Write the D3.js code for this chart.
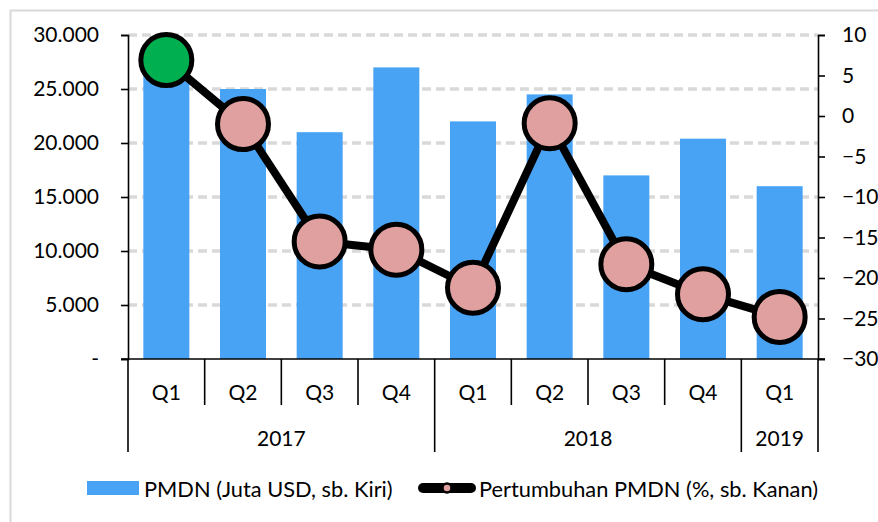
<!DOCTYPE html>
<html>
<head>
<meta charset="utf-8">
<script src="https://cdn.jsdelivr.net/npm/d3@7"></script>
<style>
  html, body { margin: 0; padding: 0; background: #fff; }
  svg { display: block; }
  text { font-family: Lato, "Open Sans", sans-serif; fill: #000; }
</style>
</head>
<body>
<svg id="chart" width="878" height="522"></svg>
<script>
// Quarterly domestic investment (PMDN) and its growth rate
const quarters = ["Q1", "Q2", "Q3", "Q4", "Q1", "Q2", "Q3", "Q4", "Q1"];
const years = ["2017", "2017", "2017", "2017", "2018", "2018", "2018", "2018", "2019"];
const pmdn = [27000, 25000, 21000, 27000, 22000, 24500, 17000, 20400, 16000];      // juta USD, left axis
const growth = [6.9, -1.0, -15.5, -16.5, -21.2, -0.9, -18.3, -22.0, -24.8];        // %, right axis
const leftTicks = [0, 5000, 10000, 15000, 20000, 25000, 30000];
const rightTicks = [-30, -25, -20, -15, -10, -5, 0, 5, 10];
const seriesNames = ["PMDN (Juta USD, sb. Kiri)", "Pertumbuhan PMDN (%, sb. Kanan)"];

const svg = d3.select("#chart");
const FONT = 21;
const LEGEND_FONT = 21.8;
const plotL = 128, plotR = 818, plotT = 35, plotB = 359;

// outer frame
svg.append("rect")
  .attr("x", 10.5).attr("y", 10.5).attr("width", 900).attr("height", 600)
  .attr("fill", "none").attr("stroke", "#d9d9d9").attr("stroke-width", 2);

const idx = d3.range(quarters.length);
const x = d3.scaleBand().domain(idx).range([plotL, plotR]).paddingInner(0.4).paddingOuter(0.2);
const yL = d3.scaleLinear().domain([0, 30000]).range([plotB, plotT]);
const yR = d3.scaleLinear().domain([-30, 10]).range([plotB, plotT]);

const idLocale = d3.formatLocale({ decimal: ",", thousands: ".", grouping: [3], currency: ["", ""] });
const fmtL = v => v === 0 ? "-" : idLocale.format(",")(v);

// dashed gridlines
svg.append("g").selectAll("line")
  .data(leftTicks.filter(v => v > 0))
  .join("line")
  .attr("x1", plotL).attr("x2", plotR)
  .attr("y1", d => yL(d)).attr("y2", d => yL(d))
  .attr("stroke", "#d9d9d9").attr("stroke-width", 3.5)
  .attr("stroke-dasharray", "9,5");

// bars
svg.append("g").selectAll("rect")
  .data(pmdn)
  .join("rect")
  .attr("x", (d, i) => x(i))
  .attr("width", x.bandwidth())
  .attr("y", d => yL(d))
  .attr("height", d => yL(0) - yL(d))
  .attr("fill", "#48a3f5");

// left axis
const gL = svg.append("g").attr("transform", `translate(${plotL},0)`)
  .call(d3.axisLeft(yL).tickValues(leftTicks).tickFormat(fmtL).tickSize(7).tickSizeOuter(7).tickPadding(22));
// right axis
const gR = svg.append("g").attr("transform", `translate(${plotR},0)`)
  .call(d3.axisRight(yR).tickValues(rightTicks).tickFormat(d3.format("d")).tickSize(7).tickSizeOuter(7).tickPadding(17));
[gL, gR].forEach(g => {
  g.selectAll("path, line").attr("stroke", "#000").attr("stroke-width", 1.6);
  g.selectAll("text").attr("font-size", FONT).attr("font-family", "Lato, sans-serif").attr("fill", "#000");
});

// category axis: baseline, separators, quarter and year labels
const cat = svg.append("g");
cat.append("line").attr("x1", plotL - 7).attr("x2", plotR + 7).attr("y1", plotB).attr("y2", plotB)
  .attr("stroke", "#000").attr("stroke-width", 1.6);
const step = x.step();
const bounds = d3.range(quarters.length + 1);
cat.selectAll("line.sep")
  .data(bounds)
  .join("line").attr("class", "sep")
  .attr("x1", i => plotL + i * step).attr("x2", i => plotL + i * step)
  .attr("y1", plotB)
  .attr("y2", i => (i === 0 || i === quarters.length || years[i] !== years[i - 1]) ? 452 : 405)
  .attr("stroke", "#000").attr("stroke-width", 1.6);
cat.selectAll("text.q")
  .data(quarters)
  .join("text").attr("class", "q")
  .attr("x", (d, i) => x(i) + x.bandwidth() / 2)
  .attr("y", 391)
  .attr("text-anchor", "middle").attr("dominant-baseline", "central")
  .attr("font-size", FONT)
  .text(d => d);
const yearGroups = d3.groups(idx, i => years[i]);
cat.selectAll("text.yr")
  .data(yearGroups)
  .join("text").attr("class", "yr")
  .attr("x", ([, is]) => plotL + (d3.min(is) + d3.max(is) + 1) / 2 * step)
  .attr("y", 437)
  .attr("text-anchor", "middle").attr("dominant-baseline", "central")
  .attr("font-size", FONT)
  .text(([yr]) => yr);

// growth line with markers
const cx = i => x(i) + x.bandwidth() / 2;
svg.append("path")
  .datum(growth)
  .attr("d", d3.line().x((d, i) => cx(i)).y(d => yR(d)))
  .attr("fill", "none").attr("stroke", "#000").attr("stroke-width", 8)
  .attr("stroke-linejoin", "round");
svg.append("g").selectAll("circle")
  .data(growth)
  .join("circle")
  .attr("cx", (d, i) => cx(i)).attr("cy", d => yR(d))
  .attr("r", 25.5)
  .attr("fill", (d, i) => i === 0 ? "#00b050" : "#e0a0a0")
  .attr("stroke", "#000").attr("stroke-width", 5);

// legend
const lg = svg.append("g");
lg.append("rect").attr("x", 87).attr("y", 481).attr("width", 52).attr("height", 14).attr("fill", "#48a3f5");
lg.append("text").attr("x", 144).attr("y", 488).attr("dominant-baseline", "central")
  .attr("font-size", LEGEND_FONT).text(seriesNames[0]);
lg.append("line").attr("x1", 423).attr("x2", 471).attr("y1", 488).attr("y2", 488)
  .attr("stroke", "#000").attr("stroke-width", 10).attr("stroke-linecap", "round");
lg.append("circle").attr("cx", 447).attr("cy", 488).attr("r", 4.5)
  .attr("fill", "#e0a0a0").attr("stroke", "#000").attr("stroke-width", 2.5);
lg.append("text").attr("x", 479).attr("y", 488).attr("dominant-baseline", "central")
  .attr("font-size", LEGEND_FONT).text(seriesNames[1]);
</script>
</body>
</html>
